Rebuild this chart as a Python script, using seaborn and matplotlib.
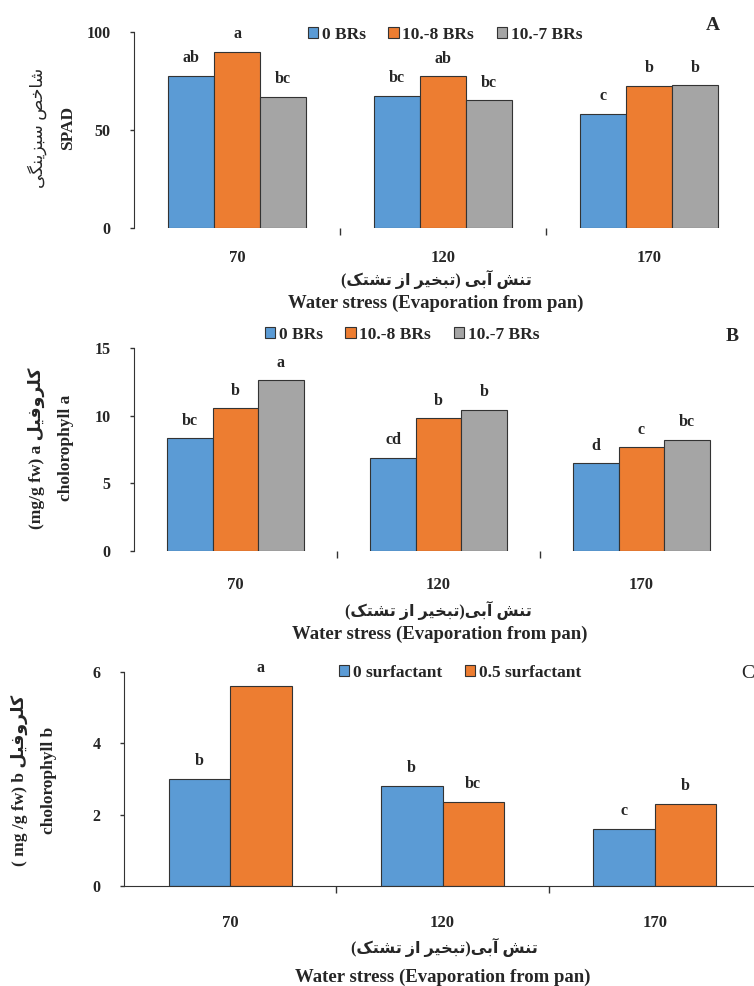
import numpy as np
import pandas as pd
import matplotlib
matplotlib.use('Agg')
import matplotlib.pyplot as plt
from matplotlib.patches import Patch
import seaborn as sns

# water stress levels (evaporation from pan)
stress = ['70', '120', '170']

# A - SPAD index
brs_names = ['0 BRs', '10.-8 BRs', '10.-7 BRs']
spad_0 = [77.7, 67.5, 58.3]
spad_8 = [90.0, 77.4, 72.6]
spad_7 = [66.8, 65.1, 72.8]
spad_letters = [['ab', 'bc', 'c'], ['a', 'ab', 'b'], ['bc', 'bc', 'b']]

# B - chlorophyll a
chla_0 = [8.33, 6.9, 6.48]
chla_8 = [10.54, 9.8, 7.66]
chla_7 = [12.6, 10.42, 8.23]
chla_letters = [['bc', 'cd', 'd'], ['b', 'b', 'c'], ['a', 'b', 'bc']]

# C - chlorophyll b
surf_names = ['0 surfactant', '0.5 surfactant']
chlb_0 = [3.01, 2.81, 1.6]
chlb_5 = [5.61, 2.36, 2.3]
chlb_letters = [['b', 'b', 'c'], ['a', 'bc', 'b']]

colors = ['#5B9BD5', '#ED7D31', '#A5A5A5']

W, H = 754, 986

# --- tiny persian shaper (matplotlib does no arabic joining) ---
# isolated, final, initial, medial
FORMS = {
    '\u0627': ('\uFE8D', '\uFE8E', None, None),   # alef
    '\u0622': ('\uFE81', '\uFE82', None, None),   # alef madda
    '\u0628': ('\uFE8F', '\uFE90', '\uFE91', '\uFE92'),
    '\u062A': ('\uFE95', '\uFE96', '\uFE97', '\uFE98'),
    '\u062E': ('\uFEA5', '\uFEA6', '\uFEA7', '\uFEA8'),
    '\u0631': ('\uFEAD', '\uFEAE', None, None),
    '\u0632': ('\uFEAF', '\uFEB0', None, None),
    '\u0633': ('\uFEB1', '\uFEB2', '\uFEB3', '\uFEB4'),
    '\u0634': ('\uFEB5', '\uFEB6', '\uFEB7', '\uFEB8'),
    '\u0635': ('\uFEB9', '\uFEBA', '\uFEBB', '\uFEBC'),
    '\u0641': ('\uFED1', '\uFED2', '\uFED3', '\uFED4'),
    '\u0644': ('\uFEDD', '\uFEDE', '\uFEDF', '\uFEE0'),
    '\u0646': ('\uFEE5', '\uFEE6', '\uFEE7', '\uFEE8'),
    '\u0648': ('\uFEED', '\uFEEE', None, None),
    '\u06A9': ('\uFB8E', '\uFB8F', '\uFB90', '\uFB91'),
    '\u06AF': ('\uFB92', '\uFB93', '\uFB94', '\uFB95'),
    '\u06CC': ('\uFBFC', '\uFBFD', '\uFBFE', '\uFBFF'),
}


def fa(text):
    out = []
    for i, ch in enumerate(text):
        if ch not in FORMS:
            out.append(ch)
            continue
        prev = text[i - 1] if i > 0 else ''
        nxt = text[i + 1] if i < len(text) - 1 else ''
        jp = prev in FORMS and FORMS[prev][2] is not None
        jn = FORMS[ch][2] is not None and nxt in FORMS
        iso, fin, ini, med = FORMS[ch]
        if jp and jn:
            out.append(med)
        elif jp:
            out.append(fin)
        elif jn:
            out.append(ini)
        else:
            out.append(iso)
    mirror = {'(': ')', ')': '('}
    return ''.join(mirror.get(c, c) for c in reversed(out))


def fx(px):
    return px / W


def fy(py):
    return 1 - py / H


def panel(fig, box, series, names, letters, width, ymax, yticks, legend_xy, xpad):
    left, top, right, bottom = box
    ax = fig.add_axes([fx(left), fy(bottom), (right - left) / W, (bottom - top) / H])
    df = pd.DataFrame({'stress': stress * len(series),
                       'treat': np.repeat(names, len(stress)),
                       'value': np.concatenate(series)})
    sns.barplot(data=df, x='stress', y='value', hue='treat', order=stress, hue_order=names,
                palette=colors[:len(names)], width=width, saturation=1, errorbar=None,
                edgecolor='#333333', linewidth=0.8, legend=False, ax=ax)
    for cont, lab in zip(ax.containers, letters):
        ax.bar_label(cont, labels=lab, padding=7, fontsize=11.5, fontweight='bold')

    ax.set_xlim(-0.5, 2.5)
    ax.set_ylim(0, ymax)
    ax.set_yticks(yticks)
    ax.set_yticklabels([str(t) for t in yticks], fontsize=11.5, fontweight='bold')
    ax.set_xticklabels(stress, fontsize=12, fontweight='bold')
    ax.set_xticks([0.5, 1.5], minor=True)
    ax.tick_params(axis='x', which='major', bottom=True, length=0, pad=xpad)
    ax.tick_params(axis='x', which='minor', bottom=True, length=5, width=1,
                   direction='out', color='#333333')
    ax.tick_params(axis='y', left=True, length=3, width=1, direction='out', pad=14,
                   color='#333333')
    ax.set_xlabel('')
    ax.set_ylabel('')
    sns.despine(ax=ax)
    ax.spines['left'].set_color('#333333')
    ax.spines['bottom'].set_color('#333333')

    handles = [Patch(facecolor=c, edgecolor='#333333', linewidth=0.8) for c in colors[:len(names)]]
    ax.legend(handles, names, loc='center', bbox_to_anchor=(fx(legend_xy[0]), fy(legend_xy[1])),
              bbox_transform=fig.transFigure, ncol=len(names), frameon=False,
              handlelength=0.6, handleheight=0.6, handletextpad=0.2, columnspacing=1.3,
              prop={'weight': 'bold', 'size': 12.5})
    return ax


sns.set_style('white')
plt.rcParams['font.family'] = ['Liberation Serif', 'DejaVu Sans']

fig = plt.figure(figsize=(W / 100, H / 100), dpi=100)

xlab_fa = fa('تنش آبی (تبخیر از تشتک)')
xlab_fa2 = fa('تنش آبی(تبخیر از تشتک)')
xlab_en = 'Water stress (Evaporation from pan)'

# A
axA = panel(fig, (134, 32, 752, 228), [spad_0, spad_8, spad_7], brs_names, spad_letters,
            0.67, 100, [0, 50, 100], (445, 35), 16)
axA.spines['bottom'].set_visible(False)
fig.text(fx(713), fy(25), 'A', fontsize=14, fontweight='bold', ha='center', va='center')
fig.text(fx(37), fy(128), fa('شاخص سبزینگی'), fontsize=12.5, rotation=90, ha='center', va='center')
fig.text(fx(68), fy(128), 'SPAD', fontsize=12.5, fontweight='bold', rotation=90, ha='center', va='center')
fig.text(fx(436), fy(279), xlab_fa, fontsize=11.5, fontweight='bold', ha='center', va='center')
fig.text(fx(436), fy(303), xlab_en, fontsize=13.5, fontweight='bold', ha='center', va='center')

# B
axB = panel(fig, (134, 348, 743, 551), [chla_0, chla_8, chla_7], brs_names, chla_letters,
            0.67, 15, [0, 5, 10, 15], (402, 335), 19)
axB.spines['bottom'].set_visible(False)
fig.text(fx(732), fy(337), 'B', fontsize=14, fontweight='bold', ha='center', va='center')
fig.text(fx(36), fy(448), '(mg/g fw) a ' + fa('کلروفیل'), fontsize=12.5, fontweight='bold',
         rotation=90, ha='center', va='center')
fig.text(fx(66), fy(448), 'cholorophyll a', fontsize=12.5, fontweight='bold', rotation=90,
         ha='center', va='center')
fig.text(fx(438), fy(610), xlab_fa2, fontsize=11.5, fontweight='bold', ha='center', va='center')
fig.text(fx(440), fy(634), xlab_en, fontsize=13.5, fontweight='bold', ha='center', va='center')

# C
axC = panel(fig, (124, 672, 761, 886), [chlb_0, chlb_5], surf_names, chlb_letters,
            0.58, 6, [0, 2, 4, 6], (460, 673), 21)
fig.text(fx(748), fy(673), 'C', fontsize=14, ha='center', va='center')
fig.text(fx(19), fy(780), '( mg /g fw) b ' + fa('کلروفیل'), fontsize=12.5, fontweight='bold',
         rotation=90, ha='center', va='center')
fig.text(fx(49), fy(780), 'cholorophyll b', fontsize=12.5, fontweight='bold', rotation=90,
         ha='center', va='center')
fig.text(fx(444), fy(947), xlab_fa2, fontsize=11.5, fontweight='bold', ha='center', va='center')
fig.text(fx(443), fy(977), xlab_en, fontsize=13.5, fontweight='bold', ha='center', va='center')

fig.savefig('out.png', dpi=100)
